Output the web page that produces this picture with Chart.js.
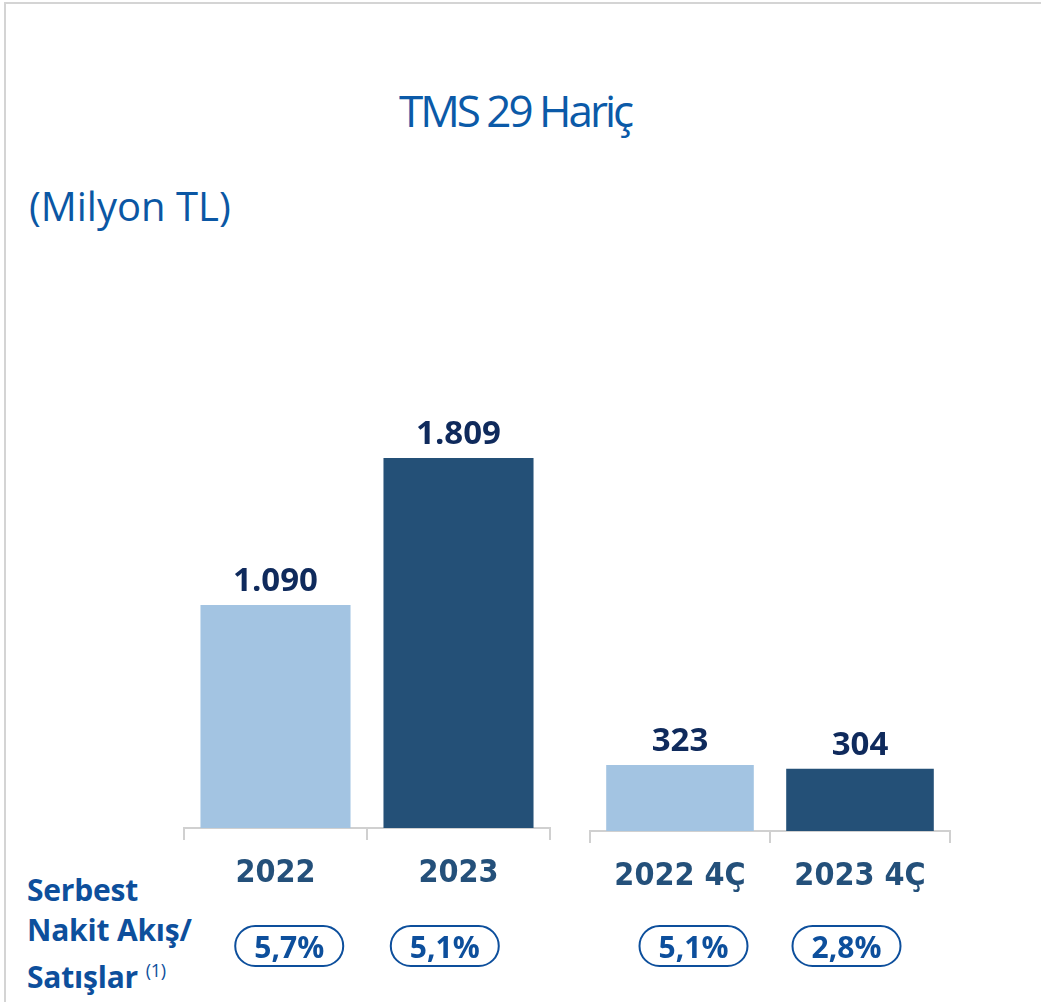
<!DOCTYPE html>
<html>
<head>
<meta charset="utf-8">
<script src="https://cdn.jsdelivr.net/npm/chart.js@4.4.0/dist/chart.umd.min.js"></script>
<style>
    body { margin: 0; background: #fff; width: 1041px; height: 1002px; overflow: hidden; position: relative; font-family: "Open Sans", sans-serif; }
    .kader { position: absolute; left: 4px; top: 2px; width: 1100px; height: 1100px; border-top: 2px solid #d4d4d4; border-left: 2px solid #d4d4d4; }
    #baslik { position: absolute; top: 88px; left: 0; width: 1030px; text-align: center; color: #0b5aa8; font-size: 44px; line-height: 1; letter-spacing: -3px; }
    #birim { position: absolute; left: 29px; top: 186px; color: #0b57a4; font-size: 40px; line-height: 1; }
    #aciklama { position: absolute; left: 27px; top: 870px; color: #0d4f9c; font-size: 30px; font-weight: bold; line-height: 40px; letter-spacing: -0.2px; }
    #aciklama sup { font-size: 18px; font-weight: normal; vertical-align: 11px; }
    .grafik { position: absolute; top: 380px; width: 420px; height: 620px; }
</style>
</head>
<body>
<div class="kader"></div>
<div id="baslik">TMS 29 Hariç</div>
<div id="birim">(Milyon TL)</div>
<div id="aciklama">Serbest<br>Nakit Akış/<br>Satışlar <sup>(1)</sup></div>
<div class="grafik" style="left:160px"><canvas id="yillikGrafik"></canvas></div>
<div class="grafik" style="left:570px"><canvas id="ceyrekGrafik"></canvas></div>

<script>
const yillikEtiketler = ["2022", "2023"];
const yillikDegerler = [1090, 1809];
const yillikOranlar = ["5,7%", "5,1%"];

const ceyrekEtiketler = ["2022 4Ç", "2023 4Ç"];
const ceyrekDegerler = [323, 304];
const ceyrekOranlar = ["5,1%", "2,8%"];

const barRenkleri = ["#a3c4e2", "#245077"];

function binlik(v) {
    return String(v).replace(/\B(?=(\d{3})+(?!\d))/g, ".");
}

// bar ustu degerler + alttaki oran hapları
const etiketEklentisi = {
    id: "etiketler",
    afterDatasetsDraw(chart, args, opts) {
        const ctx = chart.ctx;
        const meta = chart.getDatasetMeta(0);
        const degerler = chart.data.datasets[0].data;
        ctx.save();
        ctx.textAlign = "center";
        ctx.fillStyle = "#0f2a5c";
        ctx.font = "bold 33px 'Open Sans'";
        ctx.textBaseline = "alphabetic";
        meta.data.forEach((bar, i) => {
            ctx.fillText(binlik(degerler[i]), bar.x, bar.y - 14);
        });

        // haplar grup ortasina biraz yakin duruyor
        const x = chart.scales.x;
        const orta = (chart.chartArea.left + chart.chartArea.right) / 2;
        const y = 566;
        ctx.font = "bold 30px 'Open Sans'";
        opts.oranlar.forEach((oran, i) => {
            const cx = orta + (x.getPixelForValue(i) - orta) * 0.85;
            const w = 108, h = 40, r = h / 2;
            ctx.beginPath();
            ctx.roundRect(cx - w / 2, y - h / 2, w, h, r);
            ctx.strokeStyle = "#0d4f9c";
            ctx.lineWidth = 2;
            ctx.stroke();
            ctx.fillStyle = "#0d4f9c";
            ctx.textBaseline = "middle";
            ctx.fillText(oran, cx, y + 3);
        });
        ctx.restore();
    }
};

function grafikCiz(id, etiketler, degerler, oranlar, solPad, sagPad, ustPad, eksenYuk) {
    return new Chart(document.getElementById(id), {
        type: "bar",
        data: {
            labels: etiketler,
            datasets: [{
                data: degerler,
                backgroundColor: barRenkleri,
                barPercentage: 0.82,
                categoryPercentage: 1.0,
            }]
        },
        options: {
            responsive: true,
            maintainAspectRatio: false,
            animation: false,
            layout: { padding: { left: solPad, right: sagPad, top: ustPad, bottom: 0 } },
            plugins: {
                legend: { display: false },
                tooltip: { enabled: false },
                etiketler: { oranlar: oranlar },
            },
            scales: {
                y: { display: false, min: 0, max: 2000 },
                x: {
                    afterFit(scale) { scale.height = eksenYuk; },
                    grid: {
                        display: true,
                        drawOnChartArea: false,
                        drawTicks: true,
                        tickLength: 12,
                        color: "#d0d0d0",
                        lineWidth: 2,
                        offset: true,
                    },
                    border: { display: true, color: "#d0d0d0", width: 2 },
                    ticks: {
                        color: "#24507a",
                        padding: 14,
                        font: { family: "'DejaVu Sans Condensed', 'DejaVu Sans'", size: 32, weight: "bold" },
                    },
                },
            },
        },
        plugins: [etiketEklentisi],
    });
}

grafikCiz("yillikGrafik", yillikEtiketler, yillikDegerler, yillikOranlar, 24, 30, 39, 172);
grafikCiz("ceyrekGrafik", ceyrekEtiketler, ceyrekDegerler, ceyrekOranlar, 20, 40, 42, 169);
</script>
</body>
</html>
